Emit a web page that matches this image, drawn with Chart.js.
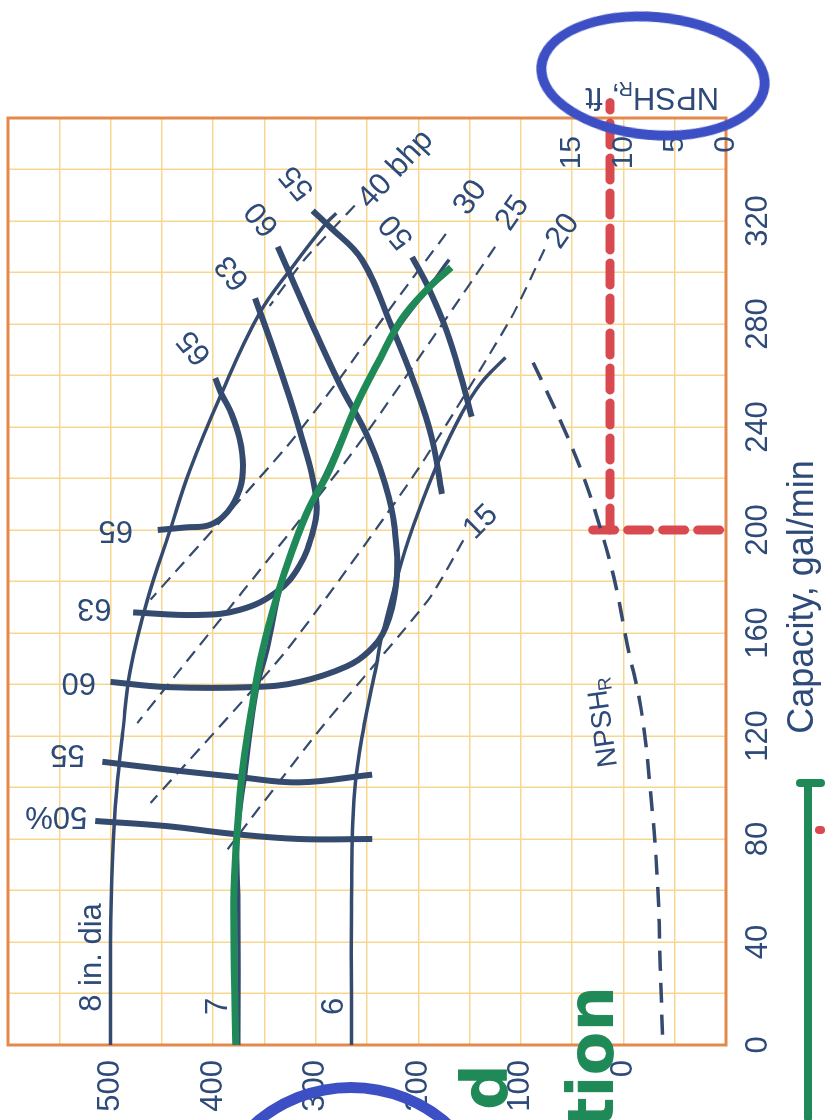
<!DOCTYPE html>
<html>
<head>
<meta charset="utf-8">
<title>Pump curves</title>
<script src="https://cdn.jsdelivr.net/npm/chart.js@4.4.1/dist/chart.umd.min.js"></script>
<style>
  html, body { margin: 0; padding: 0; background: #fff; overflow: hidden; }
  body { width: 825px; height: 1120px; position: relative; }
  /* the sheet is photographed turned a quarter turn */
  #turn { position: absolute; left: 0; top: 0; width: 1120px; height: 825px;
          transform-origin: 0 0; transform: translate(0, 1120px) rotate(-90deg); }
  .ink { position: absolute; pointer-events: none; box-sizing: border-box; }
  .pen { position: absolute; font-family: "DejaVu Sans", sans-serif; font-weight: bold;
         color: #1f8a57; transform: rotate(-90deg); white-space: nowrap; }
</style>
</head>
<body>
<div id="turn"><canvas id="pump" width="1120" height="825"></canvas></div>

<!-- pen marks on the copy -->
<div class="ink" style="left:536px;top:12px;width:234px;height:128px;border:10px solid #3d4fc4;border-radius:50%;transform:rotate(5deg)"></div>
<div class="ink" style="left:200px;top:1082px;width:302px;height:302px;border:11px solid #3d4fc4;border-radius:50%"></div>
<div class="pen" style="left:462px;top:1050px;font-size:64px">d</div>
<div class="pen" style="left:520px;top:1020px;font-size:64px">tion</div>
<div class="ink" style="left:804px;top:782px;width:8px;height:340px;background:#1f8a57;border-radius:4px"></div>
<div class="ink" style="left:796px;top:779px;width:29px;height:8px;background:#1f8a57;border-radius:4px"></div>
<div class="ink" style="left:815px;top:826px;width:10px;height:8px;background:#d84a50;border-radius:4px"></div>

<script>
// axes
const capTicks = [0, 40, 80, 120, 160, 200, 240, 280, 320];   // gal/min
const headTicks = [0, 100, 200, 300, 400, 500];                 // ft
const npshTicks = [0, 5, 10, 15];                               // ft

// impeller curves [gal/min, ft]
const dia8 = [[0,500],[40,500],[72,498],[99,494],[122,488],[145,481],[173,464],[200,442],[223,423],[252,393],[284,355],[302,323],[319,290],[323,280]];
const dia7 = [[0,375],[56,375],[80,376],[103,369],[138,357],[153,347],[181,332],[199,316],[213,301],[225,287],[253,255],[277,222],[294,190],[305,170]];
const dia6 = [[0,265],[56,265],[99,262],[126,252],[147,241],[158,236],[188,216],[207,200],[227,180],[245,158],[257,139],[267,115]];

// efficiency curves
const eff50a = [[87,515],[85,445],[82,381],[80,316],[80,245]];
const eff50b = [[306,206],[294,190],[278,173],[259,158],[244,148]];
const eff55a = [[110,508],[107,445],[104,374],[102,316],[105,245]];
const eff55b = [[324,303],[318,287],[305,255],[279,226],[256,203],[236,187],[214,177]];
const eff60 = [[141,500],[139,445],[139,361],[141,316],[147,270],[153,248],[162,232],[178,222],[192,221],[213,229],[235,248],[257,277],[282,306],[310,337]];
const eff63 = [[168,478],[167,416],[169,374],[176,338],[186,316],[199,303],[209,299],[222,304],[235,313],[252,326],[271,342],[290,359]];
const eff65 = [[200,454],[201,427],[202,403],[207,386],[216,374],[225,371],[235,374],[245,382],[253,392],[259,398]];

// brake horsepower lines
const bhp40 = [[326,262],[305,311],[287,345]];
const bhp30 = [[315,173],[289,222],[257,280],[232,329],[173,461]];
const bhp25 = [[310,125],[278,180],[227,270],[125,474]];
const bhp20 = [[309,77],[282,110],[222,203],[153,329],[94,461]];
const bhp15 = [[196,156],[173,190],[122,297],[76,386]];

// NPSH required [gal/min, ft]
const npshR = [[4,6.2],[30,6.4],[65,6.7],[100,7.4],[131,8.3],[155,9.6],[181,10.9],[204,12.5],[223,14.1],[242,16.1],[265,18.8]];

// pen marks over the printed chart
const greenPen = [[0,378],[56,380],[81,377],[108,371],[134,361],[153,352],[174,338],[192,323],[209,306],[223,287],[248,261],[266,238],[282,216],[294,190],[302,168]];
const redAcross = [[200,11.3],[366,11.3]];
const redDown = [[200,13.0],[200,-0.3]];

// text on the chart: value position and turn as seen on the photo (deg)
const notes = [
  { t: '8 in. dia', x: 34, y: 518, turn: -90 },
  { t: '7', x: 15, y: 395, turn: -90 },
  { t: '6', x: 15, y: 282, turn: -90 },
  { t: '65', x: 200, y: 495, turn: 180 },
  { t: '63', x: 170, y: 516, turn: 180 },
  { t: '60', x: 141, y: 531, turn: 180 },
  { t: '55', x: 113, y: 542, turn: 180 },
  { t: '50%', x: 89, y: 553, turn: 180 },
  { t: '65', x: 271, y: 418, turn: -130 },
  { t: '63', x: 300, y: 381, turn: -130 },
  { t: '60', x: 321, y: 352, turn: -130 },
  { t: '55', x: 335, y: 318, turn: -130 },
  { t: '50', x: 316, y: 221, turn: -130 },
  { t: '40 bhp', x: 340, y: 222, turn: -47 },
  { t: '30', x: 329, y: 149, turn: -55 },
  { t: '25', x: 323, y: 108, turn: -55 },
  { t: '20', x: 316, y: 59, turn: -55 },
  { t: '15', x: 203, y: 139, turn: -45 }
];

const navy = '#344a6e';
const ink = '#2d4a78';
const font = '"Liberation Sans", Arial, sans-serif';

function pts(a) { return a.map(p => ({ x: p[0], y: p[1] })); }

function curve(data, width, extra) {
  return Object.assign({ data: pts(data), borderColor: navy, borderWidth: width, showLine: true,
    pointRadius: 0, tension: 0.4, fill: false }, extra || {});
}

// draws frame, titles and the labels written along the curves
const sheet = {
  id: 'sheet',
  beforeDatasetsDraw(chart) {
    const a = chart.chartArea, ctx = chart.ctx;
    ctx.save();
    ctx.strokeStyle = '#e3894c';
    ctx.lineWidth = 3;
    ctx.strokeRect(a.left, a.top, a.right - a.left, a.bottom - a.top);
    ctx.restore();
  },
  afterDatasetsDraw(chart) {
    const ctx = chart.ctx, xs = chart.scales.x, ys = chart.scales.y, n = chart.scales.y2;
    ctx.save();
    ctx.fillStyle = ink;
    ctx.textAlign = 'center';
    ctx.textBaseline = 'middle';
    ctx.font = '31px ' + font;
    notes.forEach(l => {
      ctx.save();
      ctx.translate(xs.getPixelForValue(l.x), ys.getPixelForValue(l.y));
      ctx.rotate((l.turn + 90) * Math.PI / 180);
      ctx.fillText(l.t, 0, 0);
      ctx.restore();
    });

    // NPSH scale written inside the frame
    ctx.textAlign = 'right';
    ctx.font = '30px ' + font;
    npshTicks.forEach(v => ctx.fillText(String(v), chart.chartArea.right - 18, n.getPixelForValue(v)));

    // label along the NPSH curve
    ctx.save();
    ctx.translate(xs.getPixelForValue(126), n.getPixelForValue(12));
    ctx.rotate(-8 * Math.PI / 180);
    ctx.textAlign = 'center';
    ctx.font = '28px ' + font;
    ctx.fillText('NPSH', -8, 0);
    ctx.font = '19px ' + font;
    ctx.fillText('R', 36, 8);
    ctx.restore();

    // capacity title
    ctx.textAlign = 'center';
    ctx.font = '36px ' + font;
    ctx.fillText('Capacity, gal/min', xs.getPixelForValue(174), 803);

    // NPSH title
    ctx.save();
    ctx.translate(1023, n.getPixelForValue(7.5));
    ctx.rotate(-Math.PI / 2);
    ctx.font = '31px ' + font;
    ctx.textAlign = 'left';
    ctx.fillText('NPSH', -70, 0);
    const w = ctx.measureText('NPSH').width;
    ctx.font = '20px ' + font;
    ctx.fillText('R', -70 + w, 9);
    ctx.font = '31px ' + font;
    ctx.fillText(', ft', -70 + w + 13, 0);
    ctx.restore();
    ctx.restore();
  }
};

// fixed box sizes so the frame lands where it is on the sheet
function box(size, horizontal) {
  return s => {
    if (horizontal) s.height = size; else s.width = size;
    s.paddingTop = 0; s.paddingBottom = 0; s.paddingLeft = 0; s.paddingRight = 0;
  };
}

new Chart(document.getElementById('pump'), {
  type: 'scatter',
  data: {
    datasets: [
      curve(greenPen, 7, { borderColor: '#1f8a57' }),
      curve(dia8, 3.5),
      curve(dia7, 3.5),
      curve(dia6, 3.5),
      curve(eff50a, 6), curve(eff50b, 6),
      curve(eff55a, 6), curve(eff55b, 6),
      curve(eff60, 6), curve(eff63, 6), curve(eff65, 6),
      curve(bhp40, 2.2, { borderDash: [13, 8], tension: 0.2 }),
      curve(bhp30, 2.2, { borderDash: [13, 8], tension: 0.2 }),
      curve(bhp25, 2.2, { borderDash: [13, 8], tension: 0.2 }),
      curve(bhp20, 2.2, { borderDash: [13, 8], tension: 0.2 }),
      curve(bhp15, 2.2, { borderDash: [13, 8], tension: 0.2 }),
      curve(npshR, 3.5, { borderDash: [20, 12], yAxisID: 'y2' }),
      curve(redAcross, 9, { borderColor: '#d84a50', borderDash: [22, 13], borderCapStyle: 'round', yAxisID: 'y2', clip: false, tension: 0 }),
      curve(redDown, 9, { borderColor: '#d84a50', borderDash: [22, 13], borderCapStyle: 'round', yAxisID: 'y2', clip: false, tension: 0 })
    ]
  },
  options: {
    responsive: false,
    animation: false,
    devicePixelRatio: 1,
    layout: { padding: { top: 8, left: 0, right: 0, bottom: 0 } },
    plugins: { legend: { display: false }, tooltip: { enabled: false } },
    scales: {
      x: {
        type: 'linear', min: 0, max: 360,
        grid: { color: '#f7d78f', lineWidth: 1.5, drawTicks: false },
        border: { display: false },
        ticks: {
          stepSize: 20, autoSkip: false, maxRotation: 0, padding: 14,
          color: ink, font: { family: font, size: 31 },
          callback: v => (capTicks.includes(v) ? String(v) : '')
        },
        afterFit: box(99, true)
      },
      y: {
        type: 'linear', min: -100, max: 600,
        grid: { color: '#f7d78f', lineWidth: 1.5, drawTicks: false },
        border: { display: false },
        ticks: {
          stepSize: 50, autoSkip: false, padding: 15,
          color: ink, font: { family: font, size: 31 },
          callback: v => (headTicks.includes(v) ? String(v) : '')
        },
        afterFit: box(75, false)
      },
      y2: {
        type: 'linear', position: 'right', min: 0, max: 70,
        grid: { display: false },
        border: { display: false },
        ticks: { display: false },
        afterFit: box(118, false)
      }
    }
  },
  plugins: [sheet]
});
</script>
</body>
</html>
